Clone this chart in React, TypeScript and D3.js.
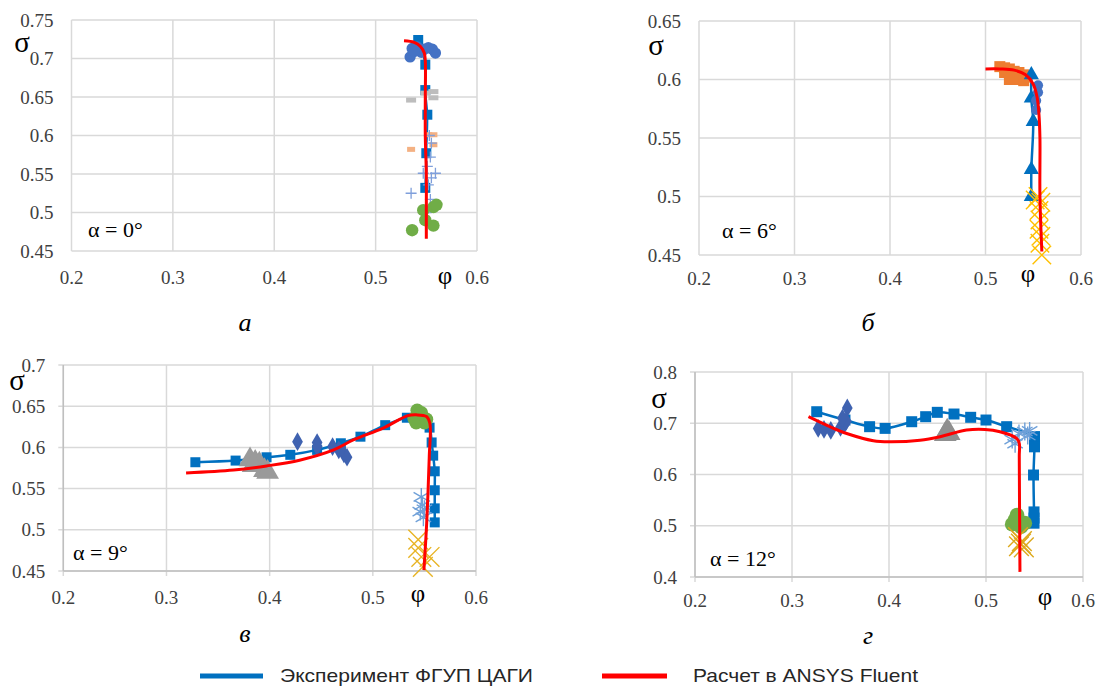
import React from "react";
import * as d3 from "d3";

// ---------- shared ----------
const X_TICKS = [0.2, 0.3, 0.4, 0.5, 0.6];
const X_TICK_LABELS = ["0.2", "0.3", "0.4", "0.5", "0.6"];
const LEGEND_LABELS = ["Эксперимент ФГУП ЦАГИ", "Расчет в ANSYS Fluent"];
const CAPTIONS = ["а", "б", "в", "г"];
const ALPHA_LABELS = ["α = 0°", "α = 6°", "α = 9°", "α = 12°"];

// ---------- panel а (α = 0°) ----------
const A_Y_TICKS = [0.45, 0.5, 0.55, 0.6, 0.65, 0.7, 0.75];
const A_Y_LABELS = ["0.45", "0.5", "0.55", "0.6", "0.65", "0.7", "0.75"];
const a_squares = [[0.542, 0.724], [0.549, 0.692], [0.549, 0.659], [0.551, 0.627], [0.55, 0.577], [0.549, 0.532]];
const a_circles = [[0.536, 0.713], [0.534, 0.702], [0.541, 0.715], [0.548, 0.712], [0.556, 0.712], [0.559, 0.707], [0.545, 0.708], [0.538, 0.709], [0.552, 0.714]];
const a_grayDash = [[0.535, 0.646], [0.557, 0.657], [0.557, 0.649], [0.549, 0.655]];
const a_orangeDash = [[0.535, 0.582], [0.557, 0.601], [0.557, 0.588], [0.552, 0.601]];
const a_plus = [[0.535, 0.525], [0.559, 0.551], [0.547, 0.551], [0.554, 0.572], [0.555, 0.59], [0.552, 0.536], [0.554, 0.517], [0.55, 0.5], [0.553, 0.6], [0.551, 0.56], [0.555, 0.545]];
const a_green = [[0.536, 0.477], [0.557, 0.507], [0.547, 0.503], [0.557, 0.483], [0.549, 0.49], [0.56, 0.51]];
const a_red = [[0.528, 0.723], [0.538, 0.721], [0.544, 0.716], [0.548, 0.707], [0.549, 0.697], [0.549, 0.65], [0.549, 0.6], [0.55, 0.55], [0.55, 0.5], [0.55, 0.466]];

// ---------- panel б (α = 6°) ----------
const B_Y_TICKS = [0.45, 0.5, 0.55, 0.6, 0.65];
const B_Y_LABELS = ["0.45", "0.5", "0.55", "0.6", "0.65"];
const b_orange = [[0.515, 0.611], [0.52, 0.61], [0.525, 0.609], [0.53, 0.607], [0.535, 0.606], [0.54, 0.604], [0.543, 0.602], [0.52, 0.606], [0.528, 0.602], [0.535, 0.6], [0.525, 0.6], [0.54, 0.599]];
const b_triangles = [[0.548, 0.604], [0.548, 0.584], [0.55, 0.564], [0.548, 0.523], [0.548, 0.5]];
const b_circles = [[0.555, 0.595], [0.553, 0.582], [0.553, 0.574], [0.555, 0.589]];
const b_xs = [[0.555, 0.5], [0.552, 0.497], [0.558, 0.495], [0.556, 0.488], [0.557, 0.48], [0.556, 0.472], [0.558, 0.466], [0.557, 0.46], [0.559, 0.45]];
const b_red = [[0.5, 0.609], [0.515, 0.609], [0.53, 0.608], [0.542, 0.604], [0.55, 0.596], [0.554, 0.585], [0.556, 0.57], [0.557, 0.55], [0.557, 0.5], [0.559, 0.453]];

// ---------- panel в (α = 9°) ----------
const C_Y_TICKS = [0.45, 0.5, 0.55, 0.6, 0.65, 0.7];
const C_Y_LABELS = ["0.45", "0.5", "0.55", "0.6", "0.65", "0.7"];
const c_squares = [[0.328, 0.582], [0.367, 0.584], [0.397, 0.588], [0.42, 0.591], [0.446, 0.597], [0.469, 0.605], [0.488, 0.613], [0.512, 0.627], [0.533, 0.636], [0.548, 0.635], [0.555, 0.624], [0.557, 0.606], [0.5585, 0.59], [0.56, 0.571], [0.56, 0.548], [0.56, 0.526], [0.56, 0.509]];
const c_diamonds = [[0.427, 0.607], [0.446, 0.606], [0.446, 0.601], [0.461, 0.601], [0.467, 0.597], [0.472, 0.592], [0.475, 0.588]];
const c_gray = [[0.381, 0.585], [0.386, 0.582], [0.39, 0.58], [0.384, 0.578], [0.395, 0.572], [0.398, 0.57]];
const c_green = [[0.543, 0.645], [0.545, 0.64], [0.54, 0.635], [0.548, 0.636], [0.55, 0.63], [0.542, 0.63], [0.547, 0.642], [0.552, 0.634]];
const c_asterisk = [[0.547, 0.54], [0.548, 0.53], [0.546, 0.522], [0.549, 0.515], [0.55, 0.525]];
const c_xs = [[0.544, 0.488], [0.547, 0.467], [0.555, 0.467], [0.5485, 0.455], [0.544, 0.478]];
const c_red = [[0.319, 0.569], [0.365, 0.5725], [0.397, 0.5775], [0.429, 0.5845], [0.462, 0.597], [0.481, 0.609], [0.51, 0.6235], [0.534, 0.6385], [0.542, 0.6395], [0.552, 0.6375], [0.5553, 0.629], [0.5547, 0.589], [0.5522, 0.508], [0.5495, 0.451]];

// ---------- panel г (α = 12°) ----------
const D_Y_TICKS = [0.4, 0.5, 0.6, 0.7, 0.8];
const D_Y_LABELS = ["0.4", "0.5", "0.6", "0.7", "0.8"];
const d_squares = [[0.3255, 0.7225], [0.3546, 0.7063], [0.38, 0.6933], [0.396, 0.69], [0.4234, 0.703], [0.4378, 0.7128], [0.4498, 0.7213], [0.467, 0.718], [0.4842, 0.7116], [0.5, 0.7063], [0.5213, 0.6933], [0.55, 0.674], [0.55, 0.665], [0.55, 0.654], [0.549, 0.599], [0.5495, 0.527], [0.5495, 0.515], [0.5495, 0.505]];
const d_diamonds = [[0.357, 0.73], [0.327, 0.69], [0.333, 0.688], [0.34, 0.686], [0.35, 0.692], [0.354, 0.698], [0.356, 0.704], [0.352, 0.71]];
const d_gray = [[0.46, 0.685], [0.462, 0.68], [0.458, 0.678]];
const d_asterisk = [[0.527, 0.668], [0.53, 0.66], [0.534, 0.68], [0.54, 0.684], [0.545, 0.685], [0.543, 0.676]];
const d_green = [[0.532, 0.521], [0.527, 0.503], [0.54, 0.505], [0.533, 0.51], [0.536, 0.498], [0.53, 0.512]];
const d_xs = [[0.533, 0.478], [0.537, 0.47], [0.534, 0.46], [0.539, 0.458], [0.536, 0.465]];
const d_red = [[0.317, 0.7128], [0.339, 0.6933], [0.3564, 0.68], [0.3838, 0.666], [0.401, 0.664], [0.432, 0.667], [0.4526, 0.6738], [0.48, 0.6868], [0.499, 0.688], [0.5144, 0.6835], [0.5316, 0.6705], [0.5343, 0.6608], [0.5343, 0.6347], [0.535, 0.41]];

// ---------- styles ----------
const BLUE = "#0070C0";
const RED = "#FF0000";
const MID_BLUE = "#4472C4";
const GREEN = "#70AD47";
const ORANGE = "#ED7D31";
const SALMON = "#F4B183";
const YELLOW = "#FFC000";
const LIGHT_BLUE = "#7F9FDB";
const ASTER = "#6FA0D8";
const GRID = "#D9D9D9";
const SERIF = "Liberation Serif, DejaVu Serif, serif";
const SANS = "Liberation Sans, Arial, sans-serif";

type Pt = number[];
type Series = { data: Pt[]; type: string; color: string; size: number; line?: boolean; lineWidth?: number };

const symMap: Record<string, any> = {
  square: d3.symbolSquare,
  circle: d3.symbolCircle,
  triangle: d3.symbolTriangle,
  diamond: d3.symbolDiamond,
  times: d3.symbolTimes,
  asterisk: d3.symbolAsterisk,
};

function Panel(props: {
  box: number[];
  yTicks: number[]; yLabels: string[];
  series: Series[]; red: Pt[];
  sigma: number[]; phi: number[]; alpha: number[]; alphaText: string;
  xLabelDy: number; axisTicks?: boolean;
}) {
  const [x0, x1, yT, yB] = props.box;
  const yDom = [props.yTicks[0], props.yTicks[props.yTicks.length - 1]];
  const x = d3.scaleLinear().domain([0.2, 0.6]).range([x0, x1]);
  const y = d3.scaleLinear().domain(yDom).range([yB, yT]);
  const lineGen = d3.line<Pt>().x((d) => x(d[0])).y((d) => y(d[1])).curve(d3.curveCatmullRom.alpha(0.5));
  const tk = props.axisTicks ? 5 : 0;
  return (
    <g>
      {X_TICKS.map((t) => (
        <line key={"gx" + t} x1={x(t)} x2={x(t)} y1={yT} y2={yB + tk} stroke={GRID} strokeWidth={1.5} />
      ))}
      {props.yTicks.map((t) => (
        <line key={"gy" + t} x1={x0 - tk} x2={x1} y1={y(t)} y2={y(t)} stroke={GRID} strokeWidth={1.5} />
      ))}
      {props.axisTicks && (
        <g>
          <line x1={x0} x2={x0} y1={yT} y2={yB} stroke="#BFBFBF" strokeWidth={1.5} />
          <line x1={x0} x2={x1} y1={yB} y2={yB} stroke="#BFBFBF" strokeWidth={1.5} />
        </g>
      )}
      {X_TICKS.map((t, i) => (
        <text key={"xl" + t} x={x(t)} y={yB + props.xLabelDy} textAnchor="middle" dominantBaseline="central"
          fontFamily={SERIF} fontSize={19} fill="#404040">{X_TICK_LABELS[i]}</text>
      ))}
      {props.yTicks.map((t, i) => (
        <text key={"yl" + t} x={x0 - 18} y={y(t)} textAnchor="end" dominantBaseline="central"
          fontFamily={SERIF} fontSize={19} fill="#404040">{props.yLabels[i]}</text>
      ))}
      {props.series.filter((s) => s.line).map((s, i) => (
        <path key={"sl" + i} d={lineGen(s.data) || ""} fill="none" stroke={s.color} strokeWidth={s.lineWidth || 2.5} />
      ))}
      {props.series.map((s, i) => (
        <g key={"s" + i}>
          {s.data.map((d, j) => {
            const cx = x(d[0]);
            const cy = y(d[1]);
            if (s.type === "dash") {
              return <rect key={j} x={cx - s.size / 2} y={cy - 2.5} width={s.size} height={5} fill={s.color} />;
            }
            if (s.type === "plus") {
              const h = s.size / 2;
              return <path key={j} d={`M${cx - h},${cy}H${cx + h}M${cx},${cy - h}V${cy + h}`} stroke={s.color} strokeWidth={1.3} fill="none" />;
            }
            const stroked = s.type === "times" || s.type === "asterisk";
            const sym = d3.symbol().type(symMap[s.type]).size(s.size * s.size)();
            return (
              <path key={j} d={sym || ""} transform={`translate(${cx},${cy})`}
                fill={stroked ? "none" : s.color} stroke={stroked ? s.color : "none"} strokeWidth={stroked ? 1.4 : 0} />
            );
          })}
        </g>
      ))}
      <path d={lineGen(props.red) || ""} fill="none" stroke={RED} strokeWidth={3} strokeLinejoin="round" />
      <text x={props.sigma[0]} y={props.sigma[1]} textAnchor="middle" dominantBaseline="central"
        fontFamily={SERIF} fontSize={29} fill="#000">σ</text>
      <text x={props.phi[0]} y={props.phi[1]} textAnchor="middle" dominantBaseline="central"
        fontFamily={SERIF} fontSize={25} fill="#000">φ</text>
      <text x={props.alpha[0]} y={props.alpha[1]} dominantBaseline="central"
        fontFamily={SERIF} fontSize={22} fill="#000">{props.alphaText}</text>
    </g>
  );
}

export default function App() {
  const aSeries: Series[] = [
    { data: a_squares, type: "square", color: BLUE, size: 10, line: true, lineWidth: 2 },
    { data: a_circles, type: "circle", color: MID_BLUE, size: 10 },
    { data: a_grayDash, type: "dash", color: "#BDBDBD", size: 10 },
    { data: a_orangeDash, type: "dash", color: SALMON, size: 8 },
    { data: a_plus, type: "plus", color: LIGHT_BLUE, size: 11 },
    { data: a_green, type: "circle", color: GREEN, size: 11 },
  ];
  const bSeries: Series[] = [
    { data: b_orange, type: "square", color: ORANGE, size: 11 },
    { data: b_triangles, type: "triangle", color: BLUE, size: 10, line: true, lineWidth: 2.5 },
    { data: b_circles, type: "circle", color: MID_BLUE, size: 9 },
    { data: b_xs, type: "times", color: YELLOW, size: 15 },
  ];
  const cSeries: Series[] = [
    { data: c_squares, type: "square", color: BLUE, size: 10, line: true, lineWidth: 2.5 },
    { data: c_diamonds, type: "diamond", color: "#3F62B0", size: 10 },
    { data: c_gray, type: "triangle", color: "#9A9A9A", size: 15 },
    { data: c_green, type: "circle", color: GREEN, size: 12 },
    { data: c_asterisk, type: "asterisk", color: ASTER, size: 15 },
    { data: c_xs, type: "times", color: "#E8B424", size: 16 },
  ];
  const dSeries: Series[] = [
    { data: d_squares, type: "square", color: BLUE, size: 11, line: true, lineWidth: 2.5 },
    { data: d_diamonds, type: "diamond", color: "#3F62B0", size: 10 },
    { data: d_gray, type: "triangle", color: "#8F8F8F", size: 15 },
    { data: d_asterisk, type: "asterisk", color: ASTER, size: 15 },
    { data: d_green, type: "circle", color: GREEN, size: 13 },
    { data: d_xs, type: "times", color: "#DDA91C", size: 16 },
  ];
  return (
    <svg width={1099} height={687} style={{ position: "absolute", left: 0, top: 0, background: "#fff" }}>
      <rect x={0} y={0} width={1099} height={687} fill="#fff" />
      <Panel box={[71.5, 477, 20, 251]} yTicks={A_Y_TICKS} yLabels={A_Y_LABELS} series={aSeries} red={a_red}
        sigma={[22, 42]} phi={[445, 275]} alpha={[88, 229]} alphaText={ALPHA_LABELS[0]} xLabelDy={26} />
      <Panel box={[699, 1081, 21, 255]} yTicks={B_Y_TICKS} yLabels={B_Y_LABELS} series={bSeries} red={b_red}
        sigma={[656, 45]} phi={[1028, 273]} alpha={[722, 230]} alphaText={ALPHA_LABELS[1]} xLabelDy={23} />
      <Panel box={[63.3, 476, 365, 571]} yTicks={C_Y_TICKS} yLabels={C_Y_LABELS} series={cSeries} red={c_red}
        sigma={[17, 380]} phi={[418, 593]} alpha={[73, 552]} alphaText={ALPHA_LABELS[2]} xLabelDy={26} axisTicks />
      <Panel box={[695, 1083, 372, 577]} yTicks={D_Y_TICKS} yLabels={D_Y_LABELS} series={dSeries} red={d_red}
        sigma={[659, 398]} phi={[1045, 596]} alpha={[710, 558]} alphaText={ALPHA_LABELS[3]} xLabelDy={23} axisTicks />
      {[[245, 322], [868, 322], [245, 633], [868, 635]].map((p, i) => (
        <text key={"cap" + i} x={p[0]} y={p[1]} textAnchor="middle" dominantBaseline="central"
          fontFamily={SERIF} fontStyle="italic" fontSize={26} fill="#000">{CAPTIONS[i]}</text>
      ))}
      <line x1={200} x2={263} y1={676} y2={676} stroke={BLUE} strokeWidth={5} />
      <text x={280} y={675} dominantBaseline="central" fontFamily={SANS} fontSize={19} fill="#262626"
        textLength={253} lengthAdjust="spacingAndGlyphs">{LEGEND_LABELS[0]}</text>
      <line x1={602} x2={667} y1={676} y2={676} stroke={RED} strokeWidth={5} />
      <text x={693} y={675} dominantBaseline="central" fontFamily={SANS} fontSize={19} fill="#262626"
        textLength={225} lengthAdjust="spacingAndGlyphs">{LEGEND_LABELS[1]}</text>
    </svg>
  );
}
